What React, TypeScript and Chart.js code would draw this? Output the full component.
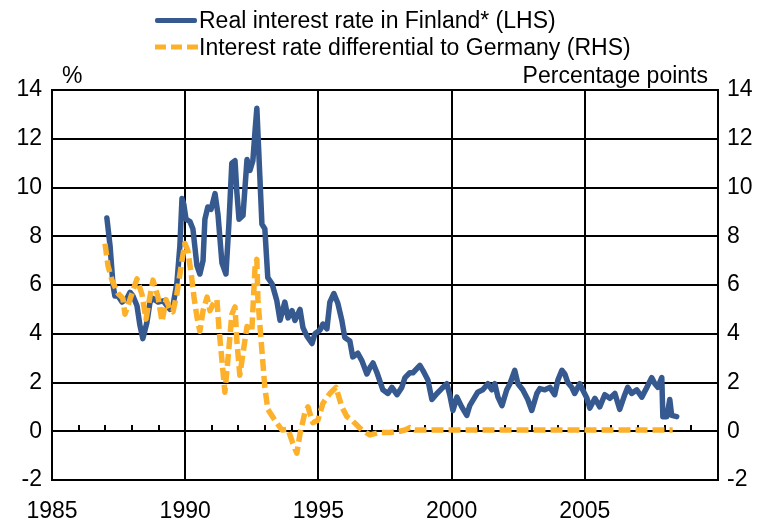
import React, { useEffect, useRef } from "react";
import { Chart, registerables } from "chart.js";

Chart.register(...registerables);

const FONT = '"Liberation Sans", Arial, sans-serif';
const BLUE = "#36598f";
const ORANGE = "#fdb12b";

const seriesLabels = [
  "Real interest rate in Finland* (LHS)",
  "Interest rate differential to Germany (RHS)",
];
const leftUnit = "%";
const rightUnit = "Percentage points";
const xTickYears = [1985, 1990, 1995, 2000, 2005];

const finlandYears = [
  1987.06, 1987.18, 1987.29, 1987.36, 1987.48, 1987.63, 1987.81, 1987.93, 1988.04, 1988.19,
  1988.3, 1988.41, 1988.56, 1988.68, 1988.79, 1988.98, 1989.17, 1989.32, 1989.43, 1989.54,
  1989.69, 1989.8, 1989.88, 1989.95, 1990.03, 1990.18, 1990.29, 1990.44, 1990.55, 1990.67,
  1990.74, 1990.85, 1990.97, 1991.12, 1991.23, 1991.38, 1991.53, 1991.64, 1991.75, 1991.87,
  1991.94, 1992.02, 1992.17, 1992.32, 1992.43, 1992.54, 1992.62, 1992.69, 1992.8, 1992.88,
  1992.99, 1993.1, 1993.26, 1993.44, 1993.56, 1993.74, 1993.86, 1994.01, 1994.12, 1994.31,
  1994.42, 1994.57, 1994.76, 1994.87, 1995.06, 1995.17, 1995.32, 1995.43, 1995.58, 1995.73,
  1995.88, 1995.99, 1996.18, 1996.29, 1996.48, 1996.63, 1996.82, 1996.93, 1997.05, 1997.2,
  1997.42, 1997.61, 1997.76, 1997.95, 1998.13, 1998.25, 1998.43, 1998.55, 1998.81, 1998.92,
  1999.11, 1999.26, 1999.45, 1999.63, 1999.82, 1999.93, 2000.05, 2000.2, 2000.38, 2000.57,
  2000.68, 2000.87, 2000.98, 2001.17, 2001.36, 2001.51, 2001.62, 2001.74, 2001.89, 2002.07,
  2002.19, 2002.37, 2002.49, 2002.67, 2002.86, 2003.01, 2003.2, 2003.31, 2003.5, 2003.69,
  2003.87, 2003.99, 2004.14, 2004.25, 2004.36, 2004.51, 2004.62, 2004.81, 2004.92, 2005.08,
  2005.19, 2005.38, 2005.56, 2005.75, 2005.94, 2006.13, 2006.31, 2006.5, 2006.61, 2006.76,
  2006.95, 2007.14, 2007.33, 2007.51, 2007.63, 2007.74, 2007.89, 2007.93, 2008.08, 2008.19,
  2008.26, 2008.45,
];
const finlandValues = [
  8.75, 7.6, 6.0, 5.55, 5.55, 5.3, 5.45, 5.7, 5.55, 5.15,
  4.35, 3.8, 4.45, 5.3, 5.45, 5.3, 5.35, 5.15, 5.0, 5.15,
  6.1, 7.6, 9.55, 9.3, 8.7, 8.6, 8.3, 6.8, 6.45, 7.0,
  8.7, 9.2, 9.1, 9.75, 8.9, 6.9, 6.45, 8.5, 11.0, 11.1,
  9.8, 8.7, 8.85, 11.15, 10.7, 11.1, 12.3, 13.25, 10.5, 8.5,
  8.3, 6.3, 6.05, 5.35, 4.55, 5.3, 4.65, 4.95, 4.55, 5.0,
  4.25, 3.9, 3.6, 4.0, 4.15, 4.4, 4.2, 5.3, 5.65, 5.25,
  4.55, 3.85, 3.7, 3.05, 3.2, 2.9, 2.35, 2.6, 2.8, 2.4,
  1.7, 1.55, 1.8, 1.5, 1.8, 2.2, 2.4, 2.4, 2.7, 2.5,
  2.1, 1.3, 1.55, 1.75, 1.95, 1.5, 0.85, 1.4, 1.0, 0.65,
  1.05, 1.4, 1.6, 1.7, 1.95, 1.7, 1.95, 1.4, 1.05, 1.7,
  1.95, 2.5, 1.95, 1.7, 1.3, 0.85, 1.55, 1.75, 1.7, 1.8,
  1.5, 2.1, 2.5, 2.35, 2.0, 1.8, 1.55, 1.95, 1.7, 1.35,
  0.95, 1.35, 1.0, 1.5, 1.35, 1.55, 0.9, 1.5, 1.8, 1.55,
  1.7, 1.4, 1.8, 2.2, 1.95, 1.8, 2.2, 0.6, 0.6, 1.3,
  0.65, 0.6,
];

const germanyDiffYears = [
  1986.99, 1987.1, 1987.25, 1987.48, 1987.66, 1987.74, 1988.0, 1988.19, 1988.38, 1988.53,
  1988.64, 1988.79, 1988.98, 1989.13, 1989.28, 1989.43, 1989.54, 1989.69, 1989.88, 1989.99,
  1990.1, 1990.22, 1990.33, 1990.44, 1990.55, 1990.67, 1990.82, 1990.93, 1991.04, 1991.19,
  1991.27, 1991.38, 1991.49, 1991.6, 1991.75, 1991.87, 1991.94, 1992.05, 1992.17, 1992.32,
  1992.43, 1992.5, 1992.62, 1992.69, 1992.73, 1992.88, 1992.99, 1993.1, 1993.37, 1993.63,
  1993.86, 1994.04, 1994.19, 1994.31, 1994.49, 1994.61, 1994.79, 1994.98, 1995.17, 1995.43,
  1995.66, 1995.88, 1996.07, 1996.26, 1996.63, 1996.93, 1997.31, 1997.68, 1998.06, 1998.25,
  1998.43, 1998.62, 1998.81, 1999.5, 2000.0, 2001.0, 2002.0, 2003.0, 2004.0, 2005.0,
  2006.0, 2007.0, 2008.3,
];
const germanyDiffValues = [
  7.7, 6.8, 6.2, 5.65, 5.45, 4.8, 5.65, 6.25, 5.6, 4.6,
  5.3, 6.2, 5.5, 4.5, 5.4, 5.0, 4.9, 5.65, 7.0, 7.7,
  7.4, 6.5, 5.5, 4.7, 4.1, 4.95, 5.5, 4.95, 5.2, 5.4,
  4.2, 2.9, 1.6, 2.9, 4.8, 5.1, 3.7, 2.3, 3.2, 4.3,
  4.1, 4.1, 6.7, 7.05, 5.4, 3.3, 1.8, 0.9, 0.45, 0.05,
  0.08, -0.5, -0.9, -0.1, 0.75, 1.0, 0.35, 0.45, 1.15, 1.55,
  1.8, 1.0, 0.6, 0.45, 0.05, -0.15, -0.05, -0.05, 0.0, 0.05,
  0.15, 0.05, 0.05, 0.05, 0.05, 0.05, 0.05, 0.05, 0.05, 0.05,
  0.05, 0.05, 0.05,
];

const yearMarks = [
  1986, 1987, 1988, 1989, 1991, 1992, 1993, 1994, 1996, 1997, 1998, 1999,
  2001, 2002, 2003, 2004, 2006, 2007, 2008, 2009,
];

const zeroLineTicks = {
  id: "zeroLineTicks",
  beforeDatasetsDraw(chart: any) {
    const { ctx, scales } = chart;
    const y0 = Math.round(scales.y.getPixelForValue(0));
    ctx.save();
    ctx.strokeStyle = "#000";
    ctx.lineWidth = 2;
    ctx.beginPath();
    yearMarks.forEach((yr) => {
      const x = Math.round(scales.x.getPixelForValue(yr));
      ctx.moveTo(x, y0);
      ctx.lineTo(x, y0 - 6);
    });
    ctx.stroke();
    ctx.restore();
  },
};

const textStyle: React.CSSProperties = {
  position: "absolute",
  fontFamily: FONT,
  fontSize: "23px",
  lineHeight: "26px",
  color: "#000",
  whiteSpace: "nowrap",
  margin: 0,
};

export default function App() {
  const canvasRef = useRef<HTMLCanvasElement | null>(null);

  useEffect(() => {
    if (!canvasRef.current) return;
    const tickFont = { family: FONT, size: 23 };
    const chart = new Chart(canvasRef.current, {
      type: "line",
      data: {
        datasets: [
          {
            label: seriesLabels[0],
            data: finlandYears.map((x, i) => ({ x, y: finlandValues[i] })),
            yAxisID: "y",
            borderColor: BLUE,
            backgroundColor: BLUE,
            borderWidth: 5.5,
            pointRadius: 0,
            tension: 0,
            borderJoinStyle: "round",
            borderCapStyle: "round",
            order: 1,
          },
          {
            label: seriesLabels[1],
            data: germanyDiffYears.map((x, i) => ({ x, y: germanyDiffValues[i] })),
            yAxisID: "y2",
            borderColor: ORANGE,
            backgroundColor: ORANGE,
            borderWidth: 5.5,
            borderDash: [12, 5],
            pointRadius: 0,
            tension: 0,
            borderJoinStyle: "round",
            order: 0,
          },
        ],
      },
      options: {
        responsive: false,
        animation: false,
        devicePixelRatio: 1,
        layout: { padding: { top: 90, left: 0, right: 0, bottom: 0 } },
        plugins: { legend: { display: false }, tooltip: { enabled: false } },
        scales: {
          x: {
            type: "linear",
            min: 1985,
            max: 2010,
            afterFit: (s: any) => {
              s.height = 46;
            },
            afterBuildTicks: (s: any) => {
              s.ticks = [1985, 1990, 1995, 2000, 2005, 2010].map((v) => ({ value: v }));
            },
            ticks: {
              font: tickFont,
              color: "#000",
              padding: 18,
              maxRotation: 0,
              autoSkip: false,
              callback: (v: any) => (xTickYears.includes(Number(v)) ? String(v) : ""),
            },
            grid: { color: "#000", lineWidth: 2, drawTicks: false },
            border: { color: "#000", width: 2 },
          },
          y: {
            position: "left",
            min: -2,
            max: 14,
            afterFit: (s: any) => {
              s.width = 52;
            },
            ticks: { stepSize: 2, font: tickFont, color: "#000", padding: 10 },
            grid: { color: "#000", lineWidth: 2, drawTicks: false },
            border: { color: "#000", width: 2 },
          },
          y2: {
            position: "right",
            min: -2,
            max: 14,
            afterFit: (s: any) => {
              s.width = 47;
            },
            ticks: { stepSize: 2, font: tickFont, color: "#000", padding: 9 },
            grid: { drawOnChartArea: false, drawTicks: false },
            border: { color: "#000", width: 2 },
          },
        },
      },
      plugins: [zeroLineTicks],
    });
    return () => chart.destroy();
  }, []);

  return (
    <div style={{ position: "absolute", left: 0, top: 0, width: 765, height: 526, background: "#fff" }}>
      <canvas ref={canvasRef} width={765} height={526} style={{ position: "absolute", left: 0, top: 0 }} />
      <div style={{ position: "absolute", left: 155, top: 18, width: 42, height: 5, background: BLUE, borderRadius: 2 }} />
      <div style={{ ...textStyle, left: 199, top: 7 }}>{seriesLabels[0]}</div>
      <svg style={{ position: "absolute", left: 155, top: 42 }} width={44} height={10}>
        <line x1={0} y1={5} x2={44} y2={5} stroke={ORANGE} strokeWidth={5} strokeDasharray="11 5" />
      </svg>
      <div style={{ ...textStyle, left: 199, top: 34 }}>{seriesLabels[1]}</div>
      <div style={{ ...textStyle, left: 62, top: 62 }}>{leftUnit}</div>
      <div style={{ ...textStyle, right: 765 - 708, top: 62 }}>{rightUnit}</div>
    </div>
  );
}
